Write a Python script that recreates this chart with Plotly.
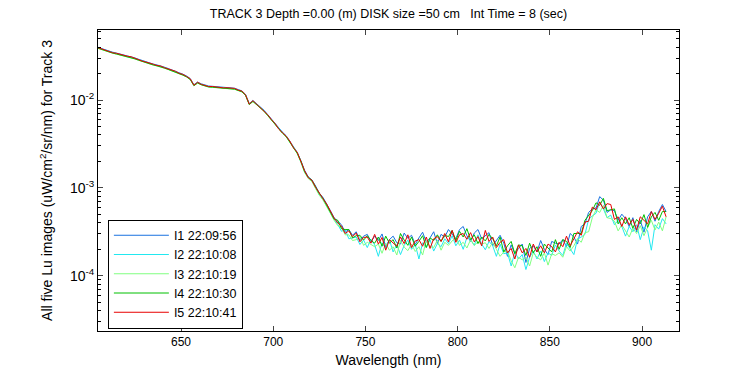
import numpy as np
import plotly.graph_objects as go

# Wavelength grid (nm)
wavelength = list(range(605, 915, 2))

# log10 of Lu (uW/cm^2/sr/nm), one list per image
I1_log10 = [
 -1.400,-1.416,-1.431,-1.446,-1.456,-1.466,-1.476,-1.486,-1.496,-1.506,
 -1.521,-1.536,-1.551,-1.566,-1.579,-1.591,-1.601,-1.611,-1.626,-1.641,
 -1.656,-1.671,-1.691,-1.706,-1.726,-1.756,-1.826,-1.796,-1.816,-1.831,
 -1.841,-1.844,-1.848,-1.852,-1.856,-1.858,-1.861,-1.866,-1.881,-1.896,
 -1.936,-2.041,-2.006,-2.041,-2.086,-2.116,-2.166,-2.216,-2.266,-2.326,
 -2.366,-2.406,-2.466,-2.536,-2.596,-2.69,-2.80,-2.875,-2.91,-2.98,
 -3.06,-3.11,-3.18,-3.26,-3.34,
 -3.385,-3.42,-3.505,-3.475,-3.54,-3.50,-3.60,-3.55,-3.53,-3.615,
 -3.55,-3.60,-3.525,-3.67,-3.59,-3.55,-3.625,-3.64,-3.515,-3.575,
 -3.54,-3.645,-3.57,-3.505,-3.62,-3.57,-3.50,-3.635,-3.53,-3.56,
 -3.475,-3.525,-3.58,-3.475,-3.44,-3.545,-3.61,-3.515,-3.475,-3.58,
 -3.545,-3.51,-3.66,-3.60,-3.54,-3.63,-3.78,-3.65,-3.75,-3.69,
 -3.64,-3.85,-3.69,-3.66,-3.73,-3.60,-3.70,-3.76,-3.61,-3.63,
 -3.64,-3.59,-3.67,-3.52,-3.56,-3.64,-3.44,-3.41,-3.28,-3.24,
 -3.23,-3.10,-3.14,-3.28,-3.25,-3.26,-3.37,-3.30,-3.35,-3.44,
 -3.34,-3.50,-3.37,-3.505,-3.33,-3.27,-3.38,-3.27,-3.19,-3.27]

I2_log10 = [
 -1.406,-1.422,-1.437,-1.452,-1.462,-1.472,-1.482,-1.492,-1.502,-1.512,
 -1.527,-1.542,-1.557,-1.572,-1.585,-1.597,-1.607,-1.617,-1.632,-1.647,
 -1.662,-1.677,-1.697,-1.712,-1.732,-1.762,-1.832,-1.802,-1.822,-1.837,
 -1.847,-1.850,-1.854,-1.858,-1.862,-1.864,-1.867,-1.872,-1.887,-1.902,
 -1.942,-2.047,-2.012,-2.047,-2.092,-2.122,-2.172,-2.222,-2.272,-2.332,
 -2.372,-2.412,-2.472,-2.542,-2.602,-2.705,-2.82,-2.89,-2.925,-3.00,
 -3.08,-3.13,-3.20,-3.285,-3.36,
 -3.415,-3.495,-3.475,-3.58,-3.57,-3.56,-3.645,-3.595,-3.68,-3.585,
 -3.65,-3.78,-3.625,-3.69,-3.59,-3.73,-3.645,-3.76,-3.655,-3.595,
 -3.70,-3.645,-3.81,-3.625,-3.68,-3.59,-3.72,-3.635,-3.67,-3.58,
 -3.635,-3.545,-3.66,-3.595,-3.70,-3.565,-3.59,-3.655,-3.535,-3.64,
 -3.705,-3.61,-3.66,-3.78,-3.64,-3.75,-3.74,-3.89,-3.73,-3.81,
 -3.76,-3.93,-3.79,-3.72,-3.81,-3.72,-3.84,-3.74,-3.77,-3.65,
 -3.72,-3.77,-3.63,-3.70,-3.76,-3.58,-3.56,-3.53,-3.36,-3.32,
 -3.29,-3.16,-3.24,-3.34,-3.31,-3.42,-3.37,-3.44,-3.55,-3.44,
 -3.50,-3.42,-3.59,-3.445,-3.49,-3.71,-3.42,-3.47,-3.35,-3.41]

I3_log10 = [
 -1.412,-1.428,-1.443,-1.458,-1.468,-1.478,-1.488,-1.498,-1.508,-1.518,
 -1.533,-1.548,-1.563,-1.578,-1.591,-1.603,-1.613,-1.623,-1.638,-1.653,
 -1.668,-1.683,-1.703,-1.718,-1.738,-1.768,-1.838,-1.808,-1.828,-1.843,
 -1.853,-1.856,-1.860,-1.864,-1.868,-1.870,-1.873,-1.878,-1.893,-1.908,
 -1.948,-2.053,-2.018,-2.053,-2.098,-2.128,-2.178,-2.228,-2.278,-2.338,
 -2.378,-2.418,-2.478,-2.548,-2.608,-2.71,-2.825,-2.895,-2.93,-3.01,
 -3.085,-3.14,-3.21,-3.29,-3.37,
 -3.43,-3.45,-3.535,-3.535,-3.60,-3.59,-3.555,-3.655,-3.62,-3.645,
 -3.67,-3.64,-3.745,-3.63,-3.71,-3.67,-3.765,-3.60,-3.675,-3.715,
 -3.64,-3.725,-3.67,-3.765,-3.60,-3.67,-3.68,-3.595,-3.71,-3.62,
 -3.655,-3.605,-3.56,-3.655,-3.62,-3.685,-3.59,-3.655,-3.615,-3.64,
 -3.625,-3.69,-3.62,-3.70,-3.78,-3.73,-3.72,-3.83,-3.91,-3.79,
 -3.82,-3.79,-3.89,-3.74,-3.79,-3.82,-3.74,-3.88,-3.75,-3.77,
 -3.74,-3.79,-3.67,-3.72,-3.66,-3.58,-3.62,-3.51,-3.50,-3.34,
 -3.25,-3.28,-3.20,-3.34,-3.35,-3.38,-3.49,-3.42,-3.49,-3.56,
 -3.46,-3.52,-3.43,-3.545,-3.45,-3.37,-3.48,-3.39,-3.49,-3.33]

I4_log10 = [
 -1.410,-1.426,-1.441,-1.456,-1.466,-1.476,-1.486,-1.496,-1.506,-1.516,
 -1.531,-1.546,-1.561,-1.576,-1.589,-1.601,-1.611,-1.621,-1.636,-1.651,
 -1.666,-1.681,-1.701,-1.716,-1.736,-1.766,-1.836,-1.806,-1.826,-1.841,
 -1.851,-1.854,-1.858,-1.862,-1.866,-1.868,-1.871,-1.876,-1.891,-1.906,
 -1.946,-2.051,-2.016,-2.051,-2.096,-2.126,-2.176,-2.226,-2.276,-2.336,
 -2.376,-2.416,-2.476,-2.546,-2.606,-2.695,-2.815,-2.88,-2.915,-2.99,
 -3.065,-3.12,-3.195,-3.265,-3.355,
 -3.37,-3.465,-3.475,-3.475,-3.57,-3.545,-3.54,-3.595,-3.545,-3.60,
 -3.63,-3.56,-3.665,-3.55,-3.63,-3.59,-3.685,-3.52,-3.595,-3.655,
 -3.56,-3.665,-3.61,-3.545,-3.68,-3.57,-3.60,-3.535,-3.61,-3.54,
 -3.555,-3.485,-3.60,-3.495,-3.56,-3.465,-3.59,-3.535,-3.635,-3.56,
 -3.605,-3.53,-3.58,-3.66,-3.56,-3.73,-3.66,-3.61,-3.75,-3.65,
 -3.66,-3.77,-3.63,-3.74,-3.67,-3.78,-3.64,-3.68,-3.73,-3.59,
 -3.70,-3.59,-3.61,-3.68,-3.52,-3.52,-3.52,-3.37,-3.32,-3.26,
 -3.17,-3.20,-3.12,-3.26,-3.25,-3.24,-3.41,-3.34,-3.41,-3.34,
 -3.46,-3.36,-3.41,-3.305,-3.45,-3.33,-3.28,-3.37,-3.27,-3.27]

I5_log10 = [
 -1.404,-1.418,-1.437,-1.448,-1.462,-1.468,-1.482,-1.488,-1.502,-1.508,
 -1.527,-1.538,-1.557,-1.568,-1.585,-1.593,-1.607,-1.613,-1.632,-1.643,
 -1.662,-1.673,-1.697,-1.708,-1.732,-1.758,-1.832,-1.798,-1.822,-1.833,
 -1.847,-1.846,-1.854,-1.854,-1.862,-1.860,-1.867,-1.868,-1.887,-1.898,
 -1.942,-2.047,-2.008,-2.047,-2.088,-2.122,-2.168,-2.222,-2.268,-2.332,
 -2.368,-2.412,-2.468,-2.545,-2.595,-2.705,-2.805,-2.885,-2.915,-2.995,
 -3.065,-3.125,-3.185,-3.275,-3.345,
 -3.40,-3.435,-3.52,-3.49,-3.555,-3.515,-3.615,-3.565,-3.56,-3.63,
 -3.53,-3.64,-3.565,-3.71,-3.59,-3.63,-3.665,-3.56,-3.635,-3.535,
 -3.68,-3.605,-3.59,-3.665,-3.56,-3.69,-3.58,-3.555,-3.61,-3.52,
 -3.615,-3.485,-3.62,-3.535,-3.52,-3.585,-3.51,-3.615,-3.555,-3.66,
 -3.485,-3.61,-3.56,-3.68,-3.62,-3.59,-3.74,-3.69,-3.81,-3.65,
 -3.74,-3.69,-3.79,-3.64,-3.73,-3.66,-3.74,-3.64,-3.67,-3.73,
 -3.62,-3.67,-3.55,-3.66,-3.58,-3.50,-3.54,-3.39,-3.38,-3.22,
 -3.25,-3.16,-3.24,-3.18,-3.19,-3.36,-3.33,-3.44,-3.33,-3.42,
 -3.36,-3.48,-3.33,-3.365,-3.41,-3.27,-3.36,-3.29,-3.21,-3.33]

series_names = ["I1 22:09:56", "I2 22:10:08", "I3 22:10:19", "I4 22:10:30", "I5 22:10:41"]
series_colors = ["#1872e0", "#22e8f0", "#80ff80", "#00c000", "#e80000"]
series_data = [I1_log10, I2_log10, I3_log10, I4_log10, I5_log10]

x_ticks = [650, 700, 750, 800, 850, 900]
y_major_ticks = [1e-4, 1e-3, 1e-2]
y_major_labels = ["10<sup>-4</sup>", "10<sup>-3</sup>", "10<sup>-2</sup>"]
y_minor_ticks = [m * 10.0 ** e for e in (-5, -4, -3, -2) for m in range(2, 10)]

FONT = "Liberation Sans, Arial, sans-serif"
Y_RANGE = [-4.63, -1.203]
W, H = 742, 367   # page body has an 8 px margin inside the 750x375 window

fig = go.Figure()
for name, color, vals in zip(series_names, series_colors, series_data):
    fig.add_trace(go.Scatter(
        x=wavelength, y=10 ** np.array(vals), mode="lines", name=name,
        line=dict(color=color, width=1),
    ))
# invisible carrier trace for the minor-tick axis
fig.add_trace(go.Scatter(
    x=wavelength, y=10 ** np.array(I5_log10), mode="lines", yaxis="y2",
    line=dict(color="rgba(0,0,0,0)", width=0), showlegend=False, hoverinfo="skip",
))

fig.update_layout(
    width=W, height=H,
    margin=dict(l=90, r=71, t=22, b=44, autoexpand=False),
    paper_bgcolor="white", plot_bgcolor="white",
    font=dict(family=FONT, size=12, color="black"),
    title=dict(text="TRACK 3 Depth =0.00 (m) DISK size =50 cm &nbsp; Int Time = 8 (sec)",
               x=(90 + 671) / 2 / W, xanchor="center", y=1 - 6 / H, yanchor="middle",
               font=dict(family=FONT, size=12.5, color="black")),
    showlegend=True,
    legend=dict(x=0.017, y=0.37, xanchor="left", yanchor="top",
                bgcolor="white", bordercolor="black", borderwidth=1,
                font=dict(family=FONT, size=12.5, color="black"),
                itemwidth=55, tracegroupgap=0),
    yaxis2=dict(type="log", range=Y_RANGE, overlaying="y", side="left",
                tickmode="array", tickvals=y_minor_ticks, showticklabels=False,
                ticks="inside", ticklen=3, tickcolor="black", mirror="ticks",
                showline=False, showgrid=False, zeroline=False, automargin=False),
)
fig.update_xaxes(
    range=[605, 920], tickvals=x_ticks, ticks="inside", ticklen=5,
    showline=True, linecolor="black", linewidth=1, mirror="ticks",
    showgrid=False, zeroline=False, automargin=False,
    title=dict(text="Wavelength (nm)", standoff=6),
    tickfont=dict(family=FONT, size=12),
)
fig.layout.yaxis.update(
    type="log", range=Y_RANGE, tickmode="array", tickvals=y_major_ticks, ticktext=y_major_labels,
    ticks="inside", ticklen=5, automargin=False,
    showline=True, linecolor="black", linewidth=1, mirror="ticks",
    showgrid=False, zeroline=False,
    title=dict(text="All five Lu images (uW/cm<sup>2</sup>/sr/nm) for Track 3", standoff=14,
               font=dict(family=FONT, size=14)),
    tickfont=dict(family=FONT, size=14),
)

fig.write_html("out.html")
